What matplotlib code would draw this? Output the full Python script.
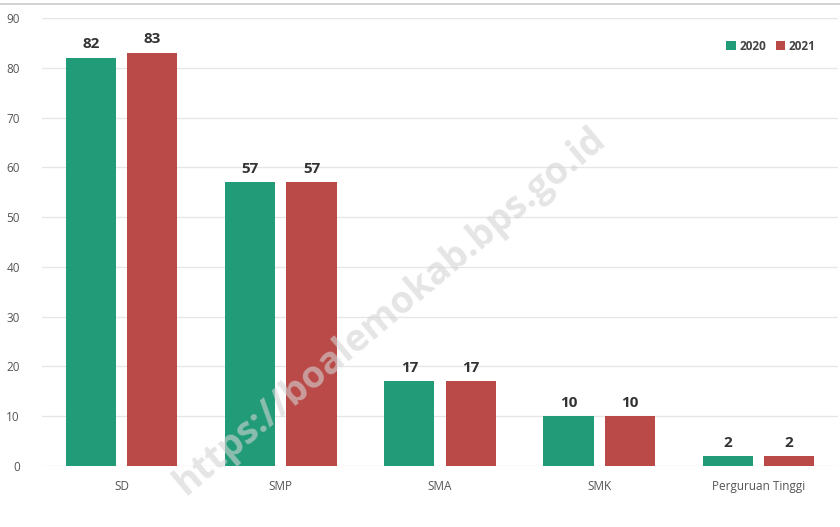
import matplotlib
matplotlib.use("Agg")
import matplotlib.pyplot as plt
import numpy as np
from matplotlib.lines import Line2D

categories = ["SD", "SMP", "SMA", "SMK", "Perguruan Tinggi"]
series_names = ["2020", "2021"]
values_2020 = [82, 57, 17, 10, 2]
values_2021 = [83, 57, 17, 10, 2]
yticks = [0, 10, 20, 30, 40, 50, 60, 70, 80, 90]

colors = ["#229c78", "#b94a48"]

plt.rcParams['font.family'] = ['Open Sans', 'DejaVu Sans']

fig = plt.figure(figsize=(8.4, 5.27), dpi=100)
ax = fig.add_axes([42/840, 61/527, 796/840, 448/527])

x = np.arange(len(categories))
w = 0.315
off = 0.1925
for vals, c, o, name in [(values_2020, colors[0], -off, series_names[0]),
                         (values_2021, colors[1], off, series_names[1])]:
    ax.bar(x + o, vals, width=w, color=c, label=name, zorder=3)
    for xi, v in zip(x + o, vals):
        ax.text(xi, v + 1.3, str(v), ha="center", va="bottom", fontsize=11,
                fontweight="bold", color="#333333", zorder=4)

ax.set_xlim(-0.5, 4.5)
ax.set_ylim(0, 90)
ax.set_yticks(yticks)
ax.set_yticklabels([str(t) for t in yticks], fontsize=8.5, color="#555555")
ax.set_xticks(x)
ax.set_xticklabels(categories, fontsize=8.5, color="#555555")
ax.tick_params(axis="both", length=0)
ax.tick_params(axis="x", pad=10)
ax.tick_params(axis="y", pad=16)
ax.grid(axis="y", color="#e6e6e6", linewidth=1, zorder=0)
for s in ax.spines.values():
    s.set_visible(False)

leg = ax.legend(loc="upper right", bbox_to_anchor=(0.985, 0.975), ncol=2, frameon=False,
                handlelength=0.8, handleheight=0.8, handletextpad=0.3, columnspacing=0.8,
                prop={"size": 8.5, "weight": "bold"})
for t in leg.get_texts():
    t.set_color("#444444")

fig.add_artist(Line2D([0, 1], [1 - 4/527, 1 - 4/527], color="#cccccc", linewidth=1.2,
                      transform=fig.transFigure))

fig.text(390/840, 1 - 312/527, "https://boalemokab.bps.go.id", rotation=40,
         ha="center", va="center", fontsize=27, fontweight="bold", color="#d4d4d4",
         alpha=0.6, zorder=10, rotation_mode="anchor")

fig.savefig("out.png", dpi=100)
